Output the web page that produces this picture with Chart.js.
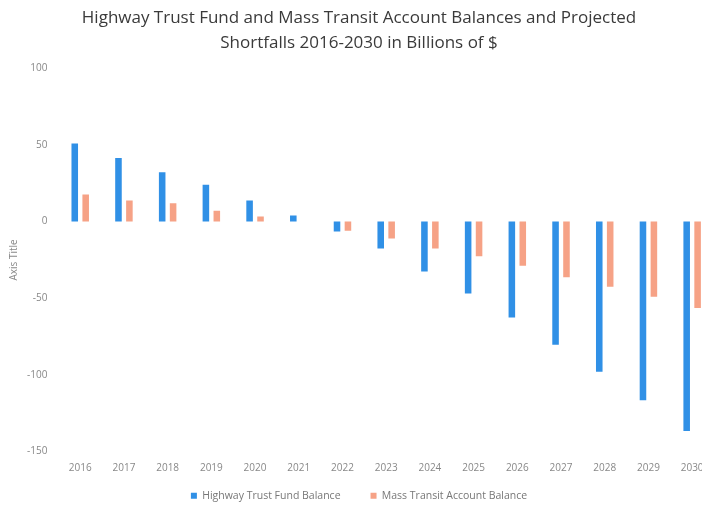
<!DOCTYPE html>
<html><head><meta charset="utf-8">
<script src="https://cdn.jsdelivr.net/npm/chart.js@4"></script>
<style>html,body{margin:0;padding:0;overflow:hidden;background:#fff;width:702px;height:506px}#w{width:720px;height:506px}</style>
</head><body><div id="w"><canvas id="c" width="720" height="506"></canvas></div>
<script>
const categories = ["2016","2017","2018","2019","2020","2021","2022","2023","2024","2025","2026","2027","2028","2029","2030"];
const highwayTrustFund = [51, 41.4, 32.2, 24, 13.7, 4, -6.5, -17.5, -32.5, -47, -62.5, -80.4, -98, -116.5, -136.6];
const massTransitAccount = [17.6, 13.7, 12, 7, 3.3, 0, -6, -11, -17.5, -22.7, -28.8, -36.4, -42.5, -49, -56.4];
const seriesNames = ["Highway Trust Fund Balance", "Mass Transit Account Balance"];
const titleLines = ["Highway Trust Fund and Mass Transit Account Balances and Projected", "Shortfalls 2016-2030 in Billions of $"];

const SHRINK = 17;
const unclipLabels = {
  id: 'unclipLabels',
  afterLayout(chart) {
    const s = chart.scales.x;
    s.bottom += SHRINK;
    s.height += SHRINK;
  }
};

new Chart(document.getElementById('c'), {
  type: 'bar',
  data: {
    labels: categories,
    datasets: [
      {label: seriesNames[0], data: highwayTrustFund, backgroundColor: '#3090e6', categoryPercentage: 0.5, barPercentage: 0.6},
      {label: seriesNames[1], data: massTransitAccount, backgroundColor: '#f6a286', categoryPercentage: 0.5, barPercentage: 0.6}
    ]
  },
  plugins: [unclipLabels],
  options: {
    responsive: false,
    animation: false,
    layout: {padding: {left: 4, right: 6, top: 4, bottom: -5}},
    plugins: {
      title: {display: true, text: titleLines, color: '#3a3a3a', font: {family: 'Open Sans', size: 17, weight: 'normal', lineHeight: 1.45}, padding: {top: 2, bottom: 13}},
      legend: {position: 'bottom', labels: {boxWidth: 6, boxHeight: 6, color: '#777', font: {family: 'Open Sans', size: 10.5}, padding: 30}},
      tooltip: {enabled: false}
    },
    scales: {
      x: {grid: {display: false}, border: {display: false}, ticks: {color: '#888', font: {family: 'Open Sans', size: 10}, maxRotation: 0},
          afterFit: (axis) => { axis.height -= SHRINK; }},
      y: {min: -150, max: 100, ticks: {stepSize: 50, color: '#888', font: {family: 'Open Sans', size: 10}},
          grid: {display: false}, border: {display: false},
          title: {display: true, text: 'Axis Title', color: '#888', font: {family: 'Open Sans', size: 10}}}
    }
  }
});
</script></body></html>
